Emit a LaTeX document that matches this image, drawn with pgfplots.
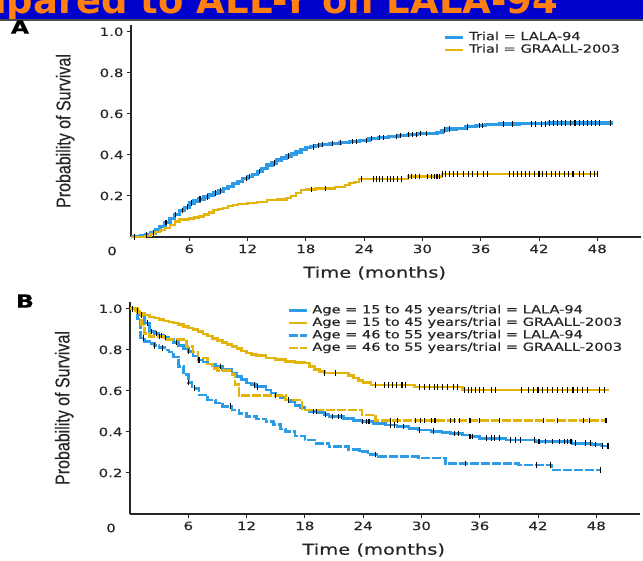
\documentclass[border=0pt]{standalone}
\usepackage{fontspec}
\setmainfont{DejaVu Sans}[FakeStretch=1.3, FakeBold=0.5]
\newfontfamily\ylabfont{Liberation Sans}[FakeStretch=0.8, FakeBold=0.3]
\newfontfamily\bannerfont{DejaVu Sans}
\usepackage{pgfplots}
\pgfplotsset{compat=1.18}
\definecolor{kmblue}{HTML}{2D9BE6}
\definecolor{kmyellow}{HTML}{E3B50C}
\definecolor{bannerblue}{HTML}{0000CC}
\definecolor{bannerorange}{HTML}{FF7F10}

\pgfplotsset{
  kmaxis/.style={
    scale only axis, width=510pt, height=212pt,
    xmin=0, xmax=52.5, ymin=0, ymax=1.033,
    axis x line=bottom, axis y line=left,
    axis line style={-, line width=1.4pt, black!85},
    xtick={6,12,...,48}, ytick={0.2,0.4,0.6,0.8,1.0},
    tick align=outside, major tick length=4pt,
    tick style={black!85, line width=1pt},
    ticklabel style={font=\fontsize{11.5}{12}\selectfont, text=black!85},
    /pgf/number format/assume math mode=true,
    yticklabel style={/pgf/number format/.cd, fixed, fixed zerofill, precision=1},
    xlabel={Time (months)},
    xlabel style={font=\fontsize{15}{16}\selectfont, text=black!85,
      at={(axis description cs:0.478,0)}, anchor=center, yshift=-36pt},
    ylabel={Probability of Survival},
    ylabel style={font=\ylabfont\fontsize{20}{20}\selectfont, text=black!85,
      at={(axis description cs:-0.129,0.5)}, anchor=center},
    clip mode=individual,
    legend cell align=left,
    legend style={draw=none, fill=none, inner sep=0pt,
      font=\fontsize{11.2}{12}\selectfont, text=black!85,
      column sep=4pt, row sep=0pt,
      nodes={inner sep=0.5pt, text height=8.5pt, text depth=3pt}},
    legend image code/.code={\draw[#1] (0pt,0pt) -- (18pt,0pt);},
  },
  censor/.style={only marks, mark=|, mark size=2.8pt, black,
    mark options={line width=1.1pt}, forget plot},
}

\begin{document}
\begin{tikzpicture}
\useasboundingbox (0,0) rectangle (643pt,-560pt);
\clip (0,0) rectangle (643pt,-560pt);

% slide title strip, cut off at the top
\fill[bannerblue] (0,0) rectangle (643pt,-19pt);
\begin{scope}
  \clip (0,0) rectangle (643pt,-18pt);
  \node[anchor=base west, inner sep=0pt, text depth=0pt, text=bannerorange,
    font=\bannerfont\bfseries\fontsize{37}{37}\selectfont]
    at (-32pt,-13pt) {mpared to ALL-Y on LALA-94};
\end{scope}
\draw[black!70, line width=2pt] (0,-20pt) -- (643pt,-20pt);

\node[inner sep=0pt, font=\bfseries\fontsize{18}{18}\selectfont] at (20pt,-27pt) {A};
\node[inner sep=0pt, font=\bfseries\fontsize{18}{18}\selectfont] at (25pt,-301pt) {B};

% ---------------- panel A
\begin{axis}[kmaxis, at={(131pt,-237pt)}, anchor=south west,
  legend style={at={(axis description cs:0.612,0.972)}, anchor=north west}]
\addplot[const plot, kmblue, line width=3.4pt] coordinates {
(0,0) (1.0,0.005) (1.5,0.01) (2.0,0.02) (2.5,0.035) (3.0,0.05) (3.5,0.07) (4.0,0.09)
(4.5,0.11) (5.0,0.13) (5.5,0.145) (6.0,0.165) (6.5,0.175) (7.0,0.185) (7.5,0.195)
(8.0,0.205) (8.5,0.215) (9.0,0.225) (9.5,0.235) (10.0,0.245) (10.5,0.26) (11.0,0.27)
(11.5,0.285) (12.0,0.295) (12.5,0.305) (13.0,0.32) (13.5,0.335) (14.0,0.35) (14.5,0.36)
(15.0,0.375) (15.5,0.385) (16.0,0.395) (16.5,0.405) (17.0,0.415) (17.5,0.425) (18.0,0.435)
(18.5,0.44) (19.0,0.445) (19.5,0.45) (20.5,0.455) (21.5,0.46) (22.5,0.465) (23.5,0.47)
(24.5,0.48) (25.5,0.485) (26.5,0.49) (27.5,0.495) (28.5,0.5) (29.5,0.505) (31.5,0.51)
(32.0,0.52) (32.5,0.527) (33.5,0.53) (34.5,0.537) (35.5,0.543) (36.5,0.547) (38.0,0.55)
(40.0,0.552) (43.0,0.555) (49.6,0.555)};
\addlegendentry{Trial = LALA-94}
\addplot[const plot, kmyellow, line width=2.3pt] coordinates {
(0,0) (1.5,0.005) (2.0,0.015) (2.5,0.025) (3.0,0.035) (3.5,0.045) (4.0,0.06) (4.5,0.075)
(5.0,0.085) (6.0,0.09) (6.5,0.095) (7.0,0.1) (7.5,0.11) (8.0,0.12) (8.5,0.13) (9.0,0.135)
(9.5,0.14) (10.0,0.15) (10.5,0.155) (11.0,0.16) (12.0,0.167) (13.0,0.172) (14.0,0.18)
(15.0,0.183) (16.0,0.19) (16.5,0.2) (17.0,0.215) (17.5,0.228) (18.0,0.232) (19.0,0.236)
(21.0,0.244) (22.0,0.255) (22.5,0.262) (23.0,0.268) (23.5,0.282) (28.5,0.295)
(32.0,0.308) (48.0,0.308)};
\addlegendentry{Trial = GRAALL-2003}
\addplot[censor] coordinates {
(0.4,0) (1.6,0.01) (2.3,0.02) (3.6,0.07) (4.6,0.11) (5.3,0.13) (5.8,0.145) (6.2,0.165)
(7.1,0.185) (7.9,0.195) (8.7,0.215) (9.2,0.225) (11.9,0.285) (12.2,0.295) (13.2,0.32)
(14.8,0.36) (16.2,0.395) (18.8,0.44) (19.3,0.445) (19.7,0.45) (20.7,0.455) (21.6,0.46)
(22.8,0.465) (23.2,0.465) (24.2,0.47) (24.8,0.48) (25.6,0.485) (26.0,0.485) (27.3,0.49)
(27.7,0.495) (28.6,0.5) (29.0,0.5) (29.4,0.5) (29.8,0.505) (30.4,0.505) (32.3,0.52)
(32.8,0.527) (34.6,0.537) (35.9,0.543) (36.2,0.543) (38.3,0.55) (39.3,0.55) (41.2,0.552)
(41.6,0.552) (42.3,0.552) (42.7,0.552) (43.1,0.555) (43.5,0.555) (43.9,0.555) (44.3,0.555)
(44.7,0.555) (45.2,0.555) (45.7,0.555) (46.2,0.555) (46.6,0.555) (47.0,0.555) (47.4,0.555)
(47.8,0.555) (48.2,0.555) (49.4,0.555)};
\addplot[censor] coordinates {
(18.6,0.232) (20.0,0.236) (23.7,0.282) (25.0,0.282) (25.3,0.282) (25.6,0.282) (25.9,0.282)
(26.4,0.282) (26.7,0.282) (27.0,0.282) (27.4,0.282) (27.8,0.282) (28.6,0.295) (28.9,0.295)
(29.3,0.295) (29.7,0.295) (30.5,0.295) (30.9,0.295) (31.2,0.295) (31.5,0.295) (31.8,0.295)
(32.1,0.308) (32.4,0.308) (32.8,0.308) (33.2,0.308) (33.6,0.308) (34.2,0.308) (34.7,0.308)
(35.2,0.308) (35.7,0.308) (36.3,0.308) (36.7,0.308) (39.0,0.308) (39.4,0.308) (39.8,0.308)
(40.2,0.308) (40.6,0.308) (41.0,0.308) (41.5,0.308) (42.0,0.308) (42.4,0.308) (42.8,0.308)
(43.3,0.308) (43.7,0.308) (44.1,0.308) (44.6,0.308) (45.0,0.308) (45.5,0.308) (46.2,0.308)
(46.6,0.308) (47.3,0.308) (47.7,0.308) (48.0,0.308)};
\node[font=\fontsize{11.5}{12}\selectfont, text=black!85, yshift=-14pt] at (axis cs:-1.95,0) {0};
\end{axis}

% ---------------- panel B
\begin{axis}[kmaxis, at={(130pt,-514pt)}, anchor=south west,
  legend style={at={(axis description cs:0.308,0.99)}, anchor=north west}]
\addplot[const plot, kmblue, line width=2.6pt] coordinates {
(0,1) (0.5,0.99) (1.0,0.97) (1.5,0.93) (2.0,0.89) (2.5,0.88) (3.0,0.87) (3.5,0.86)
(4.0,0.85) (4.5,0.835) (5.0,0.82) (5.5,0.805) (6.0,0.792) (6.5,0.77) (7.0,0.751)
(7.5,0.74) (8.0,0.73) (8.8,0.719) (9.5,0.705) (10.5,0.686) (11.0,0.67) (11.5,0.655)
(12.0,0.638) (12.5,0.63) (13.0,0.62) (14.0,0.605) (14.5,0.59) (15.0,0.578) (15.5,0.567)
(16.0,0.556) (16.5,0.545) (17.0,0.53) (17.5,0.518) (18.0,0.507) (18.5,0.5) (19.4,0.494)
(20.0,0.485) (20.5,0.475) (22.0,0.465) (23.0,0.455) (23.9,0.45) (25.0,0.442) (26.3,0.434)
(27.5,0.426) (28.7,0.418) (29.7,0.41) (31.0,0.403) (32.1,0.397) (33.0,0.392) (34.2,0.385)
(35.0,0.378) (36.0,0.369) (38.7,0.361) (41.8,0.353) (45.5,0.345) (47.5,0.338) (48.5,0.332)
(49.3,0.332)};
\addlegendentry{Age = 15 to 45 years/trial = LALA-94}
\addplot[const plot, kmyellow, line width=2.6pt] coordinates {
(0,1) (0.5,0.99) (1.0,0.979) (1.5,0.97) (2.0,0.96) (2.5,0.955) (3.0,0.948) (3.5,0.94)
(4.0,0.935) (4.5,0.93) (5.0,0.922) (5.5,0.914) (6.0,0.906) (6.5,0.898) (7.0,0.89)
(7.5,0.878) (8.0,0.868) (8.5,0.855) (9.0,0.845) (9.5,0.835) (10.0,0.825) (10.5,0.815)
(11.0,0.805) (11.5,0.795) (12.0,0.784) (12.5,0.778) (13.0,0.772) (14.0,0.76) (15.0,0.752)
(16.0,0.743) (17.0,0.738) (18.0,0.735) (18.5,0.72) (19.0,0.705) (19.5,0.694) (20.0,0.687)
(22.5,0.675) (23.0,0.662) (23.5,0.65) (24.0,0.64) (24.8,0.629) (29.3,0.618) (34.2,0.605)
(49.3,0.605)};
\addlegendentry{Age = 15 to 45 years/trial = GRAALL-2003}
\addplot[const plot, kmblue, line width=2.6pt, dash pattern=on 9pt off 2pt] coordinates {
(0,1) (0.8,0.95) (1.1,0.857) (1.5,0.84) (2.0,0.83) (2.5,0.82) (3.0,0.81) (3.6,0.80)
(4.0,0.79) (4.5,0.765) (5.0,0.72) (5.5,0.68) (6.0,0.64) (6.4,0.613) (7.1,0.58)
(8.0,0.555) (8.8,0.54) (9.5,0.525) (10.5,0.507) (11.2,0.49) (12.0,0.475) (13.0,0.462)
(14.0,0.45) (14.8,0.435) (15.5,0.415) (16.0,0.401) (17.0,0.38) (18.0,0.361) (19.0,0.345)
(20.5,0.328) (22.5,0.315) (23.6,0.304) (24.5,0.29) (25.6,0.28) (29.7,0.272) (32.5,0.247)
(40.0,0.239) (43.4,0.215) (48.4,0.215)};
\addlegendentry{Age = 46 to 55 years/trial = LALA-94}
\addplot[const plot, kmyellow, line width=2.6pt, dash pattern=on 9pt off 2pt] coordinates {
(0,1) (0.8,0.98) (1.2,0.92) (1.5,0.88) (2.0,0.865) (3.5,0.85) (5.5,0.84) (5.8,0.816)
(6.5,0.79) (7.0,0.76) (8.0,0.73) (8.5,0.71) (9.0,0.70) (10.5,0.68) (10.8,0.63)
(11.2,0.576) (16.0,0.556) (17.7,0.507) (23.9,0.483) (25.3,0.455) (49.0,0.455)};
\addlegendentry{Age = 46 to 55 years/trial = GRAALL-2003}
\addplot[censor] coordinates {
(0.3,1.0) (0.8,0.99) (1.2,0.97) (1.8,0.93) (2.2,0.89) (2.7,0.88) (3.2,0.87) (3.7,0.86)
(4.8,0.835) (6.0,0.792) (7.1,0.751) (9.3,0.719) (12.8,0.63) (13.1,0.62) (15.0,0.578)
(16.3,0.556) (18.9,0.5) (19.2,0.5) (20.1,0.485) (20.8,0.475) (21.5,0.475) (21.8,0.475)
(23.9,0.45) (24.3,0.45) (24.6,0.45) (26.8,0.434) (27.2,0.434) (28.2,0.426) (29.8,0.41)
(31.2,0.403) (33.4,0.392) (33.8,0.392) (35.0,0.378) (35.3,0.378) (36.7,0.369) (37.2,0.369)
(37.5,0.369) (38.0,0.369) (39.2,0.361) (39.7,0.361) (40.2,0.361) (41.6,0.361) (42.1,0.353)
(42.8,0.353) (43.5,0.353) (44.2,0.353) (44.7,0.353) (45.0,0.353) (45.4,0.353) (45.9,0.345)
(46.9,0.345) (47.4,0.345) (47.9,0.338) (48.6,0.332) (49.2,0.332)};
\addplot[censor] coordinates {
(20.0,0.687) (21.2,0.687) (25.3,0.629) (26.2,0.629) (26.6,0.629) (27.0,0.629) (27.4,0.629)
(28.0,0.629) (28.4,0.629) (29.8,0.618) (30.3,0.618) (30.8,0.618) (31.3,0.618) (31.7,0.618)
(32.2,0.618) (32.7,0.618) (33.3,0.618) (33.7,0.618) (34.4,0.605) (34.8,0.605) (35.2,0.605)
(35.6,0.605) (36.0,0.605) (36.4,0.605) (37.2,0.605) (37.6,0.605) (40.3,0.605) (41.0,0.605)
(41.5,0.605) (42.0,0.605) (42.5,0.605) (43.0,0.605) (43.5,0.605) (44.0,0.605) (44.5,0.605)
(45.0,0.605) (45.6,0.605) (46.1,0.605) (46.6,0.605) (47.1,0.605) (48.3,0.605) (48.8,0.605)};
\addplot[censor] coordinates {
(1.4,0.857) (2.5,0.82) (3.3,0.81) (6.0,0.64) (6.6,0.613) (10.3,0.525) (25.3,0.29)
(34.5,0.247) (41.8,0.239) (43.3,0.239) (48.4,0.215)};
\addplot[censor] coordinates {
(3.0,0.865) (26.8,0.455) (27.5,0.455) (29.4,0.455) (29.9,0.455) (30.3,0.455) (31.0,0.455)
(31.4,0.455) (33.0,0.455) (33.4,0.455) (33.9,0.455) (35.0,0.455) (36.0,0.455) (38.0,0.455)
(42.6,0.455) (44.0,0.455) (46.7,0.455) (47.3,0.455) (49.0,0.455)};
\node[font=\fontsize{11.5}{12}\selectfont, text=black!85, yshift=-14pt] at (axis cs:-1.95,0) {0};
\end{axis}
\end{tikzpicture}
\end{document}
